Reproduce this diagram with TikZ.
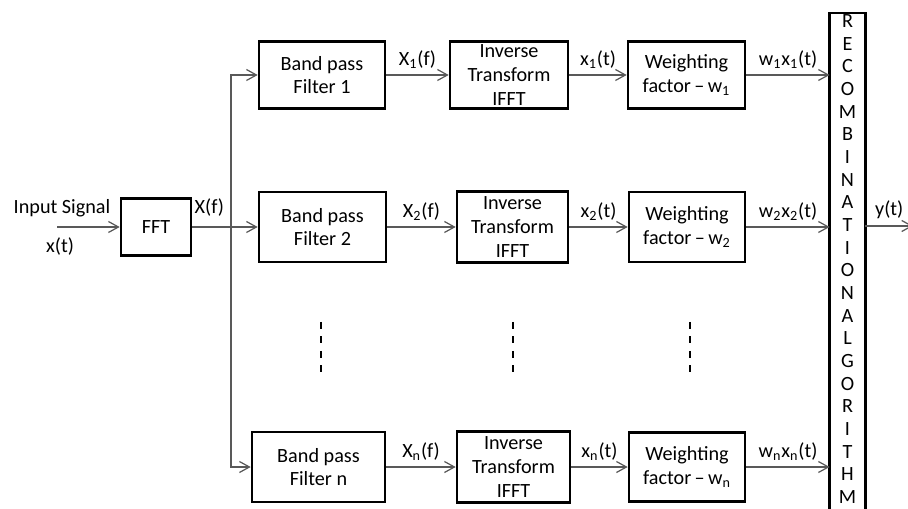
\documentclass[tikz,border=0pt]{standalone}
\usepackage{fontspec}
\setmainfont{Carlito}
\usetikzlibrary{arrows.meta}

\tikzset{
  blk/.style={draw, line width=1.5pt, align=center, inner sep=0pt,
    font=\fontsize{11.5}{13.5}\selectfont},
  conn/.style={draw=black!65, line width=0.7pt,
    -{Straight Barb[length=2mm,width=2.2mm]}},
  lbl/.style={inner sep=0pt, font=\fontsize{11.5}{13.5}\selectfont},
  vdots/.style={line width=1.1pt, dash pattern=on 0.14cm off 0.15cm},
  barframe/.style={line width=1.6pt},
}

\begin{document}
\begin{tikzpicture}[x=0.02cm,y=-0.02cm]
\clip (0,0) rectangle (908,509);
% input side
\coordinate (in) at (57,227);
\node[blk,minimum width=1.4cm,minimum height=1.14cm] (fft) at (156,227) {FFT};
\coordinate (split) at (231,227);
% branch 1
\node[blk,minimum width=2.52cm,minimum height=1.34cm] (bpf1) at (322,75) {Band pass\\Filter 1};
\node[blk,minimum width=2.36cm,minimum height=1.34cm] (ifft1) at (509,75) {Inverse\\Transform\\IFFT};
\node[blk,minimum width=2.34cm,minimum height=1.34cm] (wf1) at (686.5,75) {Weighting\\factor\,--\,w\textsubscript{1}};
% branch 2
\node[blk,minimum width=2.54cm,minimum height=1.40cm] (bpf2) at (322.5,227) {Band pass\\Filter 2};
\node[blk,minimum width=2.22cm,minimum height=1.42cm] (ifft2) at (512.5,227) {Inverse\\Transform\\IFFT};
\node[blk,minimum width=2.32cm,minimum height=1.40cm] (wf2) at (687,227) {Weighting\\factor\,--\,w\textsubscript{2}};
% branch n
\node[blk,minimum width=2.66cm,minimum height=1.40cm] (bpfn) at (318.5,467) {Band pass\\Filter n};
\node[blk,minimum width=2.26cm,minimum height=1.42cm] (ifftn) at (513.5,467) {Inverse\\Transform\\IFFT};
\node[blk,minimum width=2.32cm,minimum height=1.38cm] (wfn) at (687,467) {Weighting\\factor\,--\,w\textsubscript{n}};
% recombination bar
\node[lbl,align=center,minimum width=0.7cm,font=\fontsize{11.5}{12.9}\selectfont] (recomb) at (847.5,259)
  {R\\E\\C\\O\\M\\B\\I\\N\\A\\T\\I\\O\\N\\A\\L\\G\\O\\R\\I\\T\\H\\M};
\coordinate (bartop) at (847.5,13);
\coordinate (barbot) at (847.5,525);
\draw[barframe] (recomb.west |- bartop) rectangle (recomb.east |- barbot);
\coordinate (out) at (913,226);

\draw[conn] (in) -- node[lbl,above=5.5pt,pos=0.08] (lin) {Input Signal}
  node[lbl,below=5.5pt,pos=0.05] (lxt) {x(t)} (fft);
\draw[conn] (fft) -- node[lbl,above=5.5pt,pos=0.26] (lXf) {X(f)} (bpf2);
\draw[conn] (split) |- (bpf1);
\draw[conn] (split) |- (bpfn);

\draw[conn] (bpf1) -- node[lbl,above=3.4pt] (lX1) {X\textsubscript{1}(f)} (ifft1);
\draw[conn] (ifft1) -- node[lbl,above=3.4pt] (lx1) {x\textsubscript{1}(t)} (wf1);
\draw[conn] (wf1) -- node[lbl,above=3.4pt] (lwx1) {w\textsubscript{1}x\textsubscript{1}(t)} (wf1 -| recomb.west);

\draw[conn] (bpf2) -- node[lbl,above=3.4pt] (lX2) {X\textsubscript{2}(f)} (ifft2);
\draw[conn] (ifft2) -- node[lbl,above=3.4pt] (lx2) {x\textsubscript{2}(t)} (wf2);
\draw[conn] (wf2) -- node[lbl,above=3.4pt] (lwx2) {w\textsubscript{2}x\textsubscript{2}(t)} (wf2 -| recomb.west);

\draw[conn] (bpfn) -- node[lbl,above=3.4pt] (lXn) {X\textsubscript{n}(f)} (ifftn);
\draw[conn] (ifftn) -- node[lbl,above=3.4pt] (lxn) {x\textsubscript{n}(t)} (wfn);
\draw[conn] (wfn) -- node[lbl,above=3.4pt] (lwxn) {w\textsubscript{n}x\textsubscript{n}(t)} (wfn -| recomb.west);

\draw[conn] (recomb.east |- out) -- node[lbl,above=4pt] (lyt) {y(t)} (out);

% dotted continuation
\foreach \x in {321,513,690}
  \draw[vdots] (\x,322) -- (\x,373);
\end{tikzpicture}
\end{document}
